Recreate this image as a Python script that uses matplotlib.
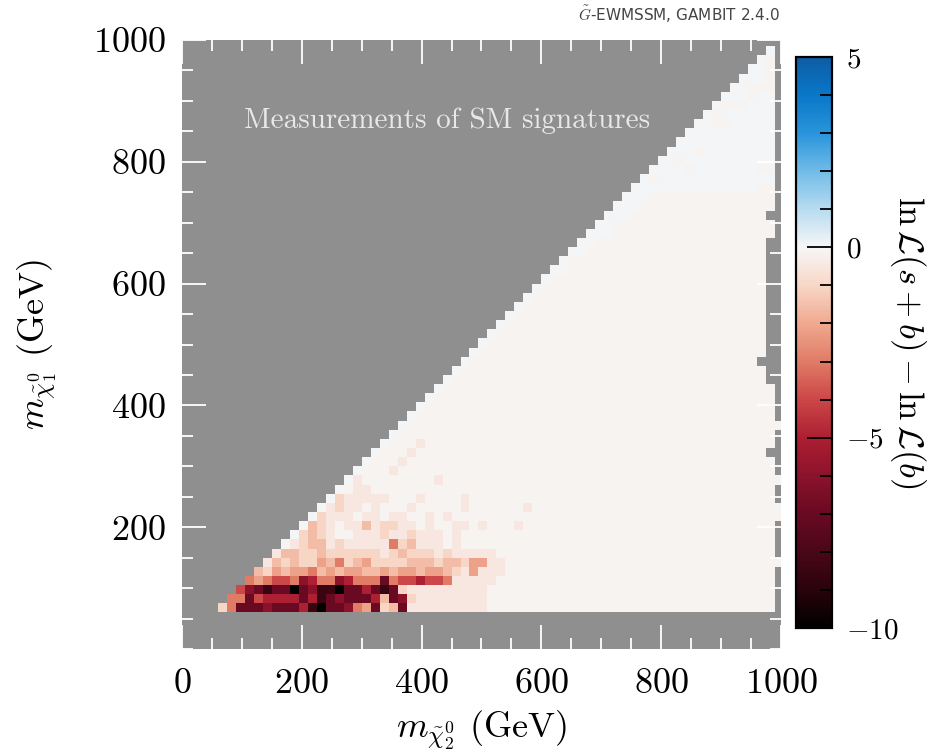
import numpy as np
import matplotlib
matplotlib.use('Agg')
import matplotlib.pyplot as plt
from matplotlib.colors import LinearSegmentedColormap, Normalize
from matplotlib.ticker import MultipleLocator

plt.rcParams['font.family'] = 'serif'
plt.rcParams['font.serif'] = ['cmr10']
plt.rcParams['mathtext.fontset'] = 'cm'
plt.rcParams['axes.unicode_minus'] = False

# bin edges (GeV) of the scan grid, same for both masses
x_edges = np.arange(60, 1006, 15)
y_edges = np.arange(60, 1006, 15)

# value of each colour level
levels = {'b': 0.05, '0': -0.12, '1': -0.5, '2': -1.0, '3': -1.6, '4': -2.2,
          '5': -3.0, '6': -4.0, '7': -5.0, '8': -6.0, '9': -7.0,
          'x': -8.5, 'k': -10.0}

# one string per row of bins, top row first; '.' = no data (grey),
# each row is right-aligned to the last column
rows = [
    '.',
    'b.',
    'b0.',
    'bb0.',
    'bbb0.',
    'bb000.',
    'bbb0bb.',
    'b000bbb.',
    'b0bbbbbb.',
    'bb00bbbbb.',
    'bbbbbbbbbb.',
    'bbbbbbbbbbb.',
    'bbb0bbbbbbbb.',
    'bb0bbbbbbbbbb.',
    'bbbb0bbbbbbb00.',
    'b0bbbbbbbbbbbbb.',
    'bbbbbbbbbbbbbb00.',
    'bbb' + '0' * 14 + '.',
    'bbb' + '0' * 15 + '.',
    'bbb' + '0' * 15 + '..',
    'bb' + '0' * 18 + '.',
    'bbb' + '0' * 18 + '.',
    'bb' + '0' * 19 + '..',
    'bb' + '0' * 20 + '..',
    'b' + '0' * 22 + '..',
    'bb' + '0' * 22 + '..',
    'b' + '0' * 24 + '..',
    'b' + '0' * 25 + '..',
    'b' + '0' * 26 + '..',
    'b' + '0' * 27 + '..',
    'b' + '0' * 28 + '..',
    'b' + '0' * 29 + '..',
    'b' + '0' * 30 + '..',
    'b' + '0' * 31 + '..',
    'b' + '0' * 32 + '..',
    'b' + '0' * 32 + '...',
    'b' + '0' * 34 + '..',
    'b' + '0' * 35 + '..',
    'b' + '0' * 37 + '.',
    'b' + '0' * 38 + '.',
    'b' + '0' * 39 + '.',
    'b' + '0' * 40 + '.',
    'b' + '0' * 42,
    'b' + '0' * 42 + '.',
    'b0001' + '0' * 39 + '.',
    'b0001' + '0' * 39 + '..',
    'b0001' + '0' * 41 + '.',
    'b0001' + '0' * 42 + '.',
    'b1' + '0' * 8 + '1' + '0' * 38,
    'b011' + '0' * 45 + '.',
    'b21111100010000' + '1' + '0' * 34 + '.',
    'b12110100010' + '0000' + '1' + '000000' + '1' + '0' * 28,
    'b2111011011001010' + '0' * 36,
    'b32101131221101001101000' + '1' + '0' * 28 + '.',
    'b2321001112112111010' + '0' * 34 + '.',
    '01233121111152311101' + '0' * 35 + '.',
    '1332232222221232221211111' + '0' * 31 + '.',
    '132322435234222233323324411' + '0' * 31,
    '3243445343443343443443214111' + '0' * 30 + '.',
    '54566587558755595667665' + '11111' + '0' * 31 + '.',
    '689x99k98xxk9979x92' + '1' * 9 + '0' * 32 + '.',
    '5596777797x989997398' + '211111111' + '0' * 32 + '.',
    '2599989997xk998549239' + '1' * 9 + '0' * 32 + '.',
]

ncol = len(x_edges) - 1
grid = np.array([[levels.get(c, np.nan) for c in r[-ncol:].rjust(ncol, '.')]
                 for r in rows[::-1]])
grid = np.ma.masked_invalid(grid)

# colour scale from the colour bar
cb_vals = [-10, -9, -8, -7, -6, -5, -4, -3, -2, -1, 0, 1, 2, 3, 4, 5]
cb_cols = ['#000000', '#2a030c', '#4a0717', '#6a0a22', '#8c122c', '#ad1f32',
           '#cc4747', '#e07b66', '#f0a98f', '#f8d6c6', '#f7f7f7', '#b8dcf0',
           '#72bce8', '#2a95dc', '#0a78c8', '#0c5da5']
vmin, vmax = -10, 5
cmap = LinearSegmentedColormap.from_list(
    'lnL', [((v - vmin) / (vmax - vmin), c) for v, c in zip(cb_vals, cb_cols)])

fig = plt.figure(figsize=(9.38, 7.55), dpi=100)
ax = fig.add_axes([0.194, 0.1404, 0.6386, 0.8066])
ax.set_facecolor('#8f8f8f')

mesh = ax.pcolormesh(x_edges, y_edges, grid, cmap=cmap,
                     norm=Normalize(vmin, vmax))
ax.set_xlim(0, 1000)
ax.set_ylim(0, 1000)

for s in ax.spines.values():
    s.set_visible(False)

ticks = [0, 200, 400, 600, 800, 1000]
ax.set_xticks(ticks, labels=[f'${t}$' for t in ticks])
ax.set_yticks(ticks[1:], labels=[f'${t}$' for t in ticks[1:]])
ax.xaxis.set_minor_locator(MultipleLocator(50))
ax.yaxis.set_minor_locator(MultipleLocator(50))
ax.tick_params(which='both', direction='in', color='white', width=1.3,
               top=True, right=True)
ax.tick_params(which='major', length=17, labelsize=26)
ax.tick_params(which='minor', length=8)
ax.tick_params(axis='x', pad=14)
ax.tick_params(axis='y', pad=12)

ax.set_xlabel(r'$m_{\tilde{\chi}_2^0}$ (GeV)', fontsize=26)
ax.set_ylabel(r'$m_{\tilde{\chi}_1^0}$ (GeV)', fontsize=26)
ax.xaxis.set_label_coords(0.5, -0.097)
ax.yaxis.set_label_coords(-0.205, 0.5)

ax.text(0.442, 0.868, 'Measurements of SM signatures', transform=ax.transAxes,
        ha='center', va='center', fontsize=21, color='#e8e8e8')

fig.text(0.8316, 0.981, r'$\tilde{G}$-EWMSSM, GAMBIT 2.4.0', ha='right',
         va='center', fontsize=11, color='#444444', family='DejaVu Sans')

cax = fig.add_axes([0.8486, 0.1682, 0.0384, 0.7563])
cb = fig.colorbar(mesh, cax=cax)
cb.set_ticks([-10, -5, 0, 5], labels=['$-10$', '$-5$', '$0$', '$5$'])
cb.ax.yaxis.set_minor_locator(MultipleLocator(1))
cb.ax.tick_params(which='both', direction='in', color='black', width=1.3,
                  labelsize=21, pad=10)
cb.ax.tick_params(which='major', length=18)
cb.ax.tick_params(which='minor', length=9)
cb.outline.set_linewidth(1.6)
fig.text(908 / 938, 1 - 342 / 755, r'$\ln\mathcal{L}(s+b) - \ln\mathcal{L}(b)$',
         rotation=270, ha='center', va='center', fontsize=25)

fig.savefig('out.png', dpi=100)
